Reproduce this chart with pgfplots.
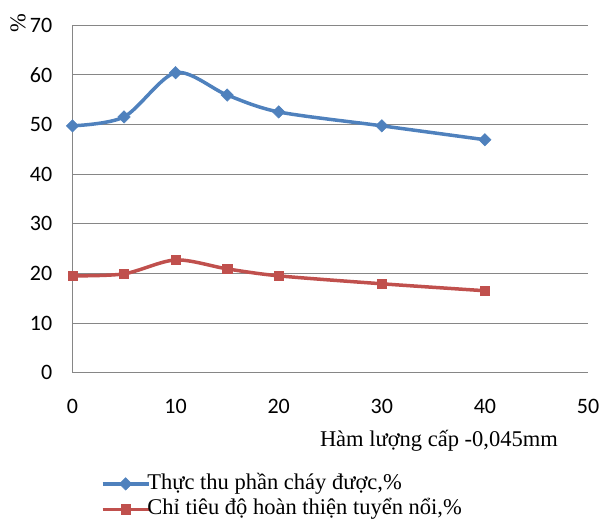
\documentclass[border=0pt]{standalone}
\usepackage{pgfplots}
\pgfplotsset{compat=1.18}
\usepackage{fontspec}
\setmainfont{Liberation Serif}
\newfontfamily\tickfont{Carlito}
\definecolor{sblue}{RGB}{79,129,189}
\definecolor{sred}{RGB}{192,80,77}
\definecolor{gridc}{RGB}{134,134,134}
\begin{document}
\begin{tikzpicture}
\begin{axis}[
  scale only axis,
  width=515.5pt, height=347.7pt,
  xmin=0, xmax=50, ymin=0, ymax=70,
  xtick={0,10,...,50}, ytick={0,10,...,70},
  axis x line*=bottom, axis y line*=left,
  axis line style={gridc, line width=0.9pt},
  x axis line style={-}, y axis line style={-},
  ymajorgrids, major grid style={gridc, line width=0.9pt},
  tick style={draw=none},
  ticklabel style={font=\tickfont\fontsize{22}{24}\selectfont},
  /pgf/number format/assume math mode=true,
  xticklabel style={anchor=base, inner sep=0pt, yshift=-41pt},
  yticklabel style={anchor=east, inner sep=0pt, xshift=-20pt},
  ylabel={\%},
  ylabel style={at={(axis description cs:0,1)}, anchor=center, xshift=1.5pt, yshift=54.5pt, inner sep=0pt, font=\fontsize{22.5}{24}\selectfont},
  xlabel={Hàm lượng cấp -0,045mm},
  xlabel style={at={(axis description cs:0,0)}, anchor=base east, inner sep=0pt, xshift=485.5pt, yshift=-74.3pt, font=\fontsize{22.5}{24}\selectfont},
  legend style={at={(axis description cs:0,0)}, anchor=north west, xshift=28.2pt, yshift=-100.5pt, draw=none, fill=none,
    font=\fontsize{22.5}{24}\selectfont, row sep=4.5pt, inner sep=0pt,
    nodes={inner sep=0pt, text height=16pt, text depth=5pt}},
  legend cell align=left,
  legend image code/.code={\draw[#1, line width=3.5pt] (0pt,0pt) -- (46pt,0pt); \draw[#1, only marks] plot coordinates {(23pt,0pt)};},
  clip=false,
]
\addplot[sblue, line width=3.5pt, smooth, tension=0.5, mark=square*, mark size=4.4pt, mark options={solid, fill=sblue, line width=0.5pt, rotate=45}]
  coordinates {(0,49.7) (5,51.5) (10,60.4) (15,55.9) (20,52.5) (30,49.7) (40,46.9)};
\addlegendentry{\hspace{-3pt}Thực thu phần cháy  được,\%}
\addplot[sred, line width=3.5pt, smooth, tension=0.5, mark=square*, mark size=4.7pt, mark options={solid, fill=sred, line width=0.5pt}]
  coordinates {(0,19.5) (5,19.9) (10,22.7) (15,20.9) (20,19.5) (30,17.9) (40,16.5)};
\addlegendentry{\hspace{-3pt}Chỉ tiêu  độ hoàn thiện tuyển nổi,\%}
\end{axis}
\pgfresetboundingbox
\path ([shift={(-72.5pt,-149.5pt)}]current axis.south west) rectangle ([shift={(14pt,25pt)}]current axis.north east);
\end{tikzpicture}
\end{document}
